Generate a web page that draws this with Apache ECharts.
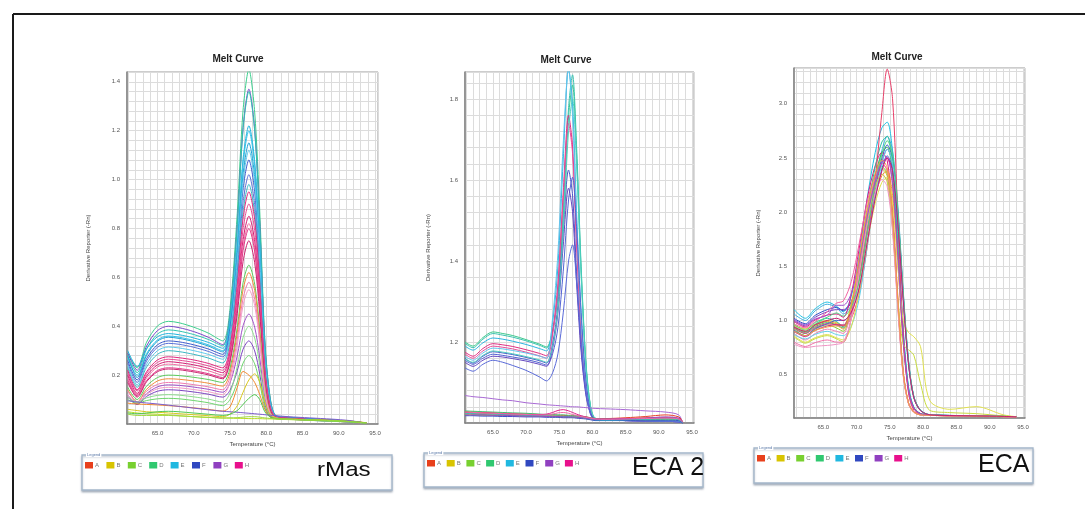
<!DOCTYPE html>
<html>
<head>
<meta charset="utf-8">
<script src="https://cdn.jsdelivr.net/npm/echarts@6.0.0/dist/echarts.min.js"></script>
<style>
html,body{margin:0;padding:0;background:#fff;}
#chart{width:1085px;height:509px;}
</style>
</head>
<body>
<div id="chart"></div>
<script>
// ---------- rMas melt curves: temperature (°C) and derivative reporter (-Rn) per well ----------
const T_RMAS = [60.9, 62.2, 63.5, 65, 66.5, 68, 70, 72, 74, 75, 76, 76.8, 77.6, 78.4, 79.1, 79.8, 80.5, 81.3, 83, 86, 89, 91.5, 93.8];
const RMAS_CURVES = [
  [.29,.23,.335,.401,.42,.414,.396,.372,.34,.473,.862,1.284,1.45,1.276,.87,.348,.116,.035,.028,.022,.017,.012,.004],
  [.29,.22,.319,.382,.40,.394,.378,.355,.325,.45,.816,1.213,1.37,1.206,.822,.329,.11,.034,.027,.021,.016,.011,.004],
  [.28,.21,.306,.368,.385,.38,.366,.346,.32,.445,.809,1.204,1.36,1.197,.816,.326,.109,.033,.027,.021,.016,.011,.004],
  [.30,.235,.309,.357,.37,.365,.352,.334,.31,.419,.738,1.084,1.22,1.074,.732,.293,.098,.032,.026,.02,.016,.011,.004],
  [.27,.20,.288,.344,.36,.355,.342,.324,.30,.408,.723,1.065,1.20,1.056,.72,.288,.096,.032,.026,.02,.015,.011,.004],
  [.28,.19,.281,.339,.355,.35,.337,.319,.295,.398,.697,1.022,1.15,1.012,.69,.276,.092,.031,.025,.02,.015,.01,.003],
  [.26,.18,.268,.324,.34,.336,.324,.307,.285,.38,.659,.961,1.08,.95,.648,.259,.086,.031,.025,.019,.015,.01,.003],
  [.25,.17,.258,.314,.33,.326,.314,.297,.275,.364,.625,.908,1.02,.898,.612,.245,.082,.03,.025,.019,.015,.01,.003],
  [.24,.16,.245,.30,.315,.311,.30,.285,.265,.368,.667,.992,1.12,.986,.672,.269,.09,.03,.024,.019,.014,.01,.003],
  [.23,.15,.233,.285,.30,.296,.285,.27,.25,.338,.593,.871,.98,.862,.588,.235,.078,.029,.024,.018,.014,.01,.003],
  [.22,.14,.214,.262,.275,.271,.262,.248,.23,.316,.568,.842,.95,.836,.57,.228,.076,.029,.024,.018,.014,.01,.003],
  [.21,.135,.207,.252,.265,.261,.252,.238,.22,.302,.54,.798,.90,.792,.54,.216,.072,.028,.023,.018,.014,.009,.003],
  [.20,.125,.197,.242,.255,.251,.242,.228,.21,.287,.511,.754,.85,.748,.51,.204,.068,.028,.023,.018,.013,.009,.003],
  [.19,.12,.189,.233,.245,.241,.232,.218,.20,.274,.491,.727,.82,.722,.492,.197,.066,.027,.022,.017,.013,.009,.003],
  [.18,.115,.178,.219,.23,.227,.218,.206,.19,.263,.477,.709,.80,.704,.48,.192,.064,.027,.022,.017,.013,.009,.003],
  [.17,.11,.173,.214,.225,.222,.213,.201,.185,.253,.451,.665,.75,.66,.45,.18,.06,.027,.022,.017,.013,.009,.003],
  [.15,.10,.155,.19,.20,.198,.191,.182,.17,.228,.396,.578,.65,.572,.39,.156,.052,.026,.021,.017,.013,.009,.003],
  [.14,.09,.142,.176,.185,.183,.176,.167,.155,.211,.374,.55,.62,.546,.372,.149,.05,.026,.021,.016,.012,.008,.003],
  [.135,.09,.134,.162,.17,.168,.161,.152,.14,.193,.347,.514,.58,.51,.348,.139,.046,.025,.021,.016,.012,.008,.003],
  [.12,.08,.124,.152,.16,.158,.151,.142,.13,.168,.28,.402,.45,.396,.27,.108,.036,.025,.02,.016,.012,.008,.003],
  [.12,.085,.121,.144,.15,.148,.141,.132,.12,.172,.322,.486,.55,.484,.33,.132,.044,.025,.02,.016,.012,.008,.003],
  [.11,.08,.113,.134,.14,.138,.131,.122,.11,.138,.218,.306,.34,.299,.204,.082,.03,.024,.02,.015,.012,.008,.003],
  [.11,.09,.107,.117,.12,.118,.111,.102,.09,.127,.236,.354,.40,.352,.24,.096,.032,.024,.02,.015,.011,.008,.003],
  [.10,.085,.096,.103,.105,.103,.096,.087,.075,.10,.171,.249,.28,.246,.168,.067,.03,.023,.019,.015,.011,.008,.003],
  [.085,.082,.08,.078,.075,.072,.066,.06,.053,.07,.15,.215,.20,.17,.12,.06,.03,.022,.02,.018,.015,.012,.005],
  [.06,.055,.05,.048,.045,.042,.038,.034,.03,.04,.075,.13,.18,.205,.17,.09,.04,.025,.02,.018,.015,.012,.005],
  [.095,.09,.086,.082,.077,.072,.065,.058,.052,.05,.048,.046,.044,.042,.04,.038,.036,.034,.03,.025,.02,.014,.003],
  [.05,.045,.042,.04,.037,.034,.03,.027,.024,.024,.023,.023,.022,.022,.022,.021,.021,.02,.018,.016,.013,.01,.004],
  [.045,.042,.045,.05,.052,.05,.045,.04,.035,.04,.055,.08,.105,.12,.1,.05,.03,.022,.02,.017,.014,.01,.004],
  [.04,.035,.035,.035,.035,.033,.03,.027,.025,.025,.026,.028,.03,.03,.028,.025,.023,.021,.019,.017,.014,.01,.004]
];
const RMAS_COLORS = ['#3ccf8e','#7a48c8','#2ec4b0','#22b4dc','#34c2e8','#1ea2d4','#3e5ccc','#5a72d8','#5ec8ea','#3ab8c4',
  '#e0287e','#e84a94','#d41e74','#f06ca2','#e23a8a','#cc2470','#5ccc5c','#f08c3c','#f07cb0','#a050c8',
  '#f29cc6','#7c44c0','#8cdc8c','#6cd46c','#f0882c','#d8c820','#7c5ccc','#b8dc20','#50c850','#a0d840'];
const RMAS_Y_LABELS = [0.2, 0.4, 0.6, 0.8, 1.0, 1.2, 1.4];

// ---------- ECA 2 melt curves ----------
const T_ECA2 = [60.8, 62, 63.5, 65, 66.5, 68, 70, 72, 73.1, 74, 74.8, 75.6, 76.4, 77.0, 77.6, 78.3, 79, 79.7, 80.4, 82, 85, 88, 91, 93, 93.6];
const ECA2_CURVES = [
  [1.20,1.19,1.211,1.225,1.221,1.216,1.206,1.195,1.188,1.227,1.317,1.512,1.757,1.835,1.668,1.376,1.15,1.042,1.012,1.009,1.007,1.006,1.005,1.004,1.0],
  [1.197,1.186,1.207,1.221,1.217,1.212,1.203,1.192,1.185,1.226,1.32,1.523,1.779,1.86,1.688,1.387,1.155,1.043,1.012,1.009,1.007,1.006,1.005,1.004,1.0],
  [1.19,1.18,1.198,1.21,1.207,1.202,1.194,1.184,1.178,1.248,1.387,1.652,1.875,1.788,1.525,1.263,1.105,1.035,1.01,1.008,1.006,1.005,1.004,1.003,1.0],
  [1.175,1.165,1.184,1.196,1.193,1.189,1.181,1.172,1.166,1.225,1.344,1.57,1.76,1.684,1.456,1.228,1.091,1.03,1.01,1.008,1.006,1.005,1.004,1.003,1.0],
  [1.17,1.16,1.178,1.19,1.187,1.183,1.175,1.166,1.16,1.218,1.334,1.554,1.74,1.666,1.444,1.222,1.089,1.03,1.01,1.008,1.006,1.005,1.004,1.003,1.0],
  [1.165,1.155,1.173,1.185,1.183,1.179,1.173,1.165,1.16,1.26,1.42,1.69,1.875,1.76,1.5,1.25,1.1,1.03,1.008,1.007,1.006,1.005,1.004,1.003,1.0],
  [1.16,1.148,1.165,1.176,1.173,1.169,1.162,1.154,1.148,1.196,1.291,1.472,1.625,1.563,1.375,1.188,1.075,1.025,1.008,1.007,1.006,1.005,1.004,1.003,1.0],
  [1.155,1.145,1.16,1.17,1.167,1.163,1.157,1.149,1.143,1.171,1.236,1.375,1.551,1.607,1.486,1.273,1.109,1.03,1.01,1.008,1.006,1.005,1.004,1.003,1.0],
  [1.15,1.14,1.155,1.165,1.163,1.159,1.153,1.145,1.14,1.184,1.272,1.439,1.58,1.522,1.348,1.174,1.07,1.023,1.008,1.007,1.006,1.005,1.004,1.003,1.0],
  [1.158,1.15,1.167,1.178,1.175,1.171,1.164,1.156,1.15,1.189,1.28,1.475,1.722,1.80,1.64,1.36,1.144,1.04,1.012,1.009,1.007,1.006,1.005,1.004,1.0],
  [1.136,1.128,1.145,1.155,1.15,1.142,1.13,1.114,1.104,1.124,1.171,1.272,1.40,1.44,1.352,1.198,1.079,1.022,1.008,1.007,1.006,1.005,1.004,1.003,1.0],
  [1.068,1.065,1.063,1.06,1.057,1.055,1.05,1.047,1.045,1.044,1.043,1.042,1.041,1.04,1.04,1.039,1.038,1.037,1.036,1.035,1.033,1.03,1.027,1.02,1.0],
  [1.028,1.027,1.026,1.025,1.024,1.023,1.022,1.021,1.02,1.02,1.019,1.019,1.018,1.018,1.017,1.016,1.015,1.013,1.011,1.011,1.013,1.016,1.02,1.015,1.003],
  [1.025,1.025,1.024,1.023,1.022,1.021,1.02,1.019,1.018,1.018,1.017,1.017,1.016,1.016,1.015,1.014,1.013,1.011,1.01,1.01,1.011,1.013,1.014,1.011,1.002],
  [1.022,1.022,1.021,1.02,1.02,1.019,1.018,1.017,1.017,1.016,1.016,1.015,1.015,1.014,1.014,1.013,1.012,1.01,1.009,1.009,1.009,1.01,1.01,1.008,1.001],
  [1.02,1.02,1.019,1.019,1.018,1.018,1.017,1.016,1.016,1.015,1.015,1.015,1.014,1.014,1.013,1.012,1.011,1.009,1.008,1.008,1.008,1.008,1.009,1.007,1.001],
  [1.03,1.029,1.028,1.027,1.026,1.025,1.024,1.022,1.021,1.021,1.02,1.02,1.019,1.019,1.018,1.017,1.015,1.013,1.011,1.01,1.01,1.011,1.012,1.01,1.002],
  [1.026,1.025,1.025,1.024,1.023,1.022,1.021,1.021,1.022,1.026,1.031,1.033,1.03,1.026,1.022,1.018,1.015,1.012,1.01,1.01,1.011,1.012,1.013,1.01,1.002],
  [1.018,1.018,1.017,1.017,1.016,1.016,1.015,1.015,1.014,1.014,1.014,1.013,1.013,1.013,1.012,1.011,1.01,1.008,1.006,1.006,1.006,1.007,1.007,1.006,1.0],
  [1.024,1.023,1.022,1.022,1.021,1.02,1.019,1.018,1.018,1.017,1.017,1.016,1.016,1.015,1.015,1.014,1.012,1.01,1.008,1.007,1.008,1.009,1.01,1.008,1.001],
  [1.02,1.02,1.02,1.019,1.019,1.018,1.017,1.017,1.016,1.016,1.016,1.015,1.015,1.015,1.014,1.013,1.012,1.01,1.009,1.009,1.01,1.012,1.015,1.012,1.002],
  [1.027,1.026,1.025,1.024,1.023,1.022,1.021,1.02,1.02,1.022,1.025,1.026,1.024,1.021,1.019,1.016,1.014,1.012,1.01,1.009,1.01,1.011,1.012,1.01,1.002]
];
const ECA2_COLORS = ['#3cc88c','#3cc4b0','#2cb4e0','#e02c80','#e8509a','#64c4ec','#4854c8','#5464d4','#6448c0','#50d0c0','#5a6ad8','#a868d4',
  '#e83c28','#f08c30','#d8c820','#a0d030','#40c070','#e0208a','#3c50c8','#30b8c0','#9448c4','#f06aa8'];
const ECA2_Y_LABELS = [1.2, 1.4, 1.6, 1.8];

// ---------- ECA melt curves ----------
const T_ECA = [60.6, 62.3, 63.8, 65.6, 67.0, 68.0, 69.2, 70.4, 71.6, 72.8, 73.8, 74.6, 75.4, 76.2, 77.0, 77.8, 78.6, 79.6, 81, 84, 88, 92, 94];
const ECA_CURVES = [
  [1.10,1.02,1.11,1.17,1.13,1.08,1.22,1.605,2.13,2.55,2.778,2.83,2.559,1.80,.933,.391,.201,.142,.128,.123,.119,.115,.11],
  [1.06,1.0,1.09,1.15,1.12,1.06,1.142,1.388,1.847,2.29,2.569,2.70,2.571,2.055,1.281,.636,.301,.172,.13,.123,.119,.115,.11],
  [1.02,.97,1.048,1.10,1.12,1.09,1.167,1.396,1.824,2.238,2.498,2.62,2.495,1.995,1.245,.62,.295,.17,.13,.124,.12,.116,.111],
  [1.0,.95,1.03,1.08,1.10,1.10,1.174,1.396,1.81,2.21,2.462,2.58,2.457,1.965,1.227,.612,.292,.169,.129,.123,.119,.115,.11],
  [.99,.94,1.006,1.05,1.06,1.03,1.243,1.668,2.124,2.428,2.55,2.477,2.015,1.214,.533,.242,.156,.13,.126,.121,.118,.114,.11],
  [.97,.93,.99,1.08,1.16,1.18,1.358,1.713,2.094,2.348,2.45,2.38,1.937,1.169,.516,.237,.155,.129,.125,.12,.117,.113,.109],
  [.96,.92,.968,1.0,.98,.95,1.153,1.559,1.994,2.284,2.40,2.332,1.898,1.146,.508,.234,.154,.129,.125,.12,.117,.113,.109],
  [.95,.90,.954,.99,.97,.95,1.064,1.379,1.808,2.151,2.337,2.38,2.154,1.521,.798,.346,.188,.138,.127,.122,.118,.114,.11],
  [.94,.89,.944,.98,.96,.93,1.064,1.431,1.932,2.333,2.55,2.6,2.352,1.658,.864,.368,.194,.14,.127,.122,.118,.114,.11],
  [.93,.88,.964,1.02,.99,.94,1.081,1.468,1.996,2.418,2.647,2.7,2.442,1.72,.894,.378,.197,.141,.128,.123,.119,.115,.11],
  [.92,.86,.92,.96,.93,.90,1.113,1.538,1.994,2.298,2.42,2.351,1.914,1.155,.511,.235,.155,.129,.125,.12,.117,.113,.109],
  [.93,.88,.934,.97,.96,.95,1.02,1.25,1.68,2.3,2.92,3.32,3.05,1.95,.9,.33,.17,.135,.127,.122,.118,.114,.11],
  [.90,.85,.91,.95,.96,.96,1.083,1.422,1.884,2.254,2.454,2.5,2.262,1.596,.834,.358,.191,.139,.127,.122,.118,.114,.11],
  [.91,.86,.926,.97,1.0,1.0,1.076,1.304,1.73,2.14,2.398,2.52,2.40,1.92,1.20,.60,.288,.168,.129,.123,.119,.115,.11],
  [.88,.82,.88,.92,.90,.88,1.086,1.497,1.938,2.232,2.35,2.283,1.859,1.124,.499,.232,.153,.129,.125,.12,.117,.113,.109],
  [.87,.83,.872,.90,.87,.86,.946,1.204,1.686,2.15,2.442,2.58,2.457,1.965,1.227,.612,.292,.169,.129,.123,.119,.115,.11],
  [.86,.80,.842,.87,.84,.82,.94,1.27,1.72,2.08,2.275,2.32,2.1,1.5,1.0,.89,.85,.76,.26,.18,.205,.13,.112],
  [.85,.79,.832,.86,.83,.80,1.017,1.451,1.916,2.226,2.35,2.28,1.86,1.2,.78,.73,.68,.42,.17,.15,.14,.12,.11],
  [.80,.76,.796,.82,.80,.80,1.031,1.493,1.988,2.318,2.45,2.38,1.937,1.169,.516,.237,.155,.129,.125,.12,.117,.113,.109],
  [.78,.75,.762,.77,.78,.80,1.01,1.43,1.88,2.18,2.3,2.235,1.82,1.101,.491,.229,.153,.129,.125,.12,.117,.113,.109],
  [.96,.91,.982,1.03,1.07,1.04,1.121,1.364,1.818,2.255,2.53,2.66,2.533,2.025,1.263,.628,.298,.171,.13,.124,.12,.116,.111],
  [1.01,.96,1.014,1.05,1.14,1.14,1.249,1.548,1.956,2.282,2.459,2.5,2.262,1.596,.834,.358,.191,.139,.127,.122,.118,.114,.11],
  [.90,.86,.908,.94,.95,.92,1.138,1.575,2.043,2.355,2.48,2.409,1.961,1.182,.521,.238,.155,.129,.125,.12,.117,.113,.109],
  [.94,.90,.96,1.0,1.02,1.0,1.075,1.3,1.72,2.125,2.38,2.5,2.381,1.905,1.191,.596,.287,.168,.129,.123,.119,.115,.11]
];
const ECA_COLORS = ['#22c0e2','#3caee0','#3050c8','#8040c0','#e01882','#f062a2','#d8c81c','#f09030','#40c060','#30c0a0','#90d030','#e8406a',
  '#d02c8c','#5060d0','#f080b4','#60d0ea','#e0e050','#c8dc40','#f070a8','#f094c4','#50d080','#a050d0','#f0a040','#c81c70'];
const ECA_Y_LABELS = [0.5, 1.0, 1.5, 2.0, 2.5, 3.0];

// shared axis labels and legend
const X_LABELS = [65, 70, 75, 80, 85, 90, 95];
const LEGEND_KEYS = ['A', 'B', 'C', 'D', 'E', 'F', 'G', 'H'];
const LEGEND_COLORS = ['#e8401c', '#d8c400', '#78d030', '#30c870', '#20b8e0', '#3048c0', '#9040c0', '#e8108c'];
const PANEL_NAMES = ['rMas', 'ECA 2', 'ECA'];

// ---------- layout of the three panels ----------
const FONT = 'Liberation Sans, Arial, sans-serif';
const panels = [
  { temps: T_RMAS, curves: RMAS_CURVES, colors: RMAS_COLORS, yLabels: RMAS_Y_LABELS,
    grid: { left: 127, top: 72, width: 251, height: 352 }, xr: [60.8, 95.4], yr: [0, 1.44, 0.04],
    title: [238, 59], yGap: 36, xGap: 17,
    legend: { x: 82, y: 455, w: 310, h: 35, sx: 85, step: 21.4, sy: 462 },
    name: { x: 317, y: 470, size: 21, scaleX: 1.15 } },
  { temps: T_ECA2, curves: ECA2_CURVES, colors: ECA2_COLORS, yLabels: ECA2_Y_LABELS,
    grid: { left: 465, top: 72, width: 229, height: 351 }, xr: [60.8, 95.3], yr: [1.0, 1.867, 0.04],
    title: [566, 60], yGap: 34, xGap: 16,
    legend: { x: 424, y: 453, w: 279, h: 34, sx: 427, step: 19.7, sy: 460 },
    name: { x: 632, y: 468, size: 25, scaleX: 1 } },
  { temps: T_ECA, curves: ECA_CURVES, colors: ECA_COLORS, yLabels: ECA_Y_LABELS,
    grid: { left: 794, top: 68, width: 231, height: 350 }, xr: [60.6, 95.3], yr: [0.1, 3.33, 0.1],
    title: [897, 57], yGap: 33, xGap: 17,
    legend: { x: 754, y: 448, w: 279, h: 35, sx: 757, step: 19.6, sy: 455 },
    name: { x: 978, y: 465, size: 25, scaleX: 1 } }
];

const near = (list, v) => list.some(t => Math.abs(t - v) < 1e-6);

const grids = [], xAxes = [], yAxes = [], series = [], graphics = [];

// outer frame
graphics.push({ type: 'line', shape: { x1: 13, y1: 14, x2: 1085, y2: 14 }, style: { stroke: '#1a1a1a', lineWidth: 2 }, silent: true });
graphics.push({ type: 'line', shape: { x1: 13, y1: 14, x2: 13, y2: 509 }, style: { stroke: '#1a1a1a', lineWidth: 2 }, silent: true });

panels.forEach((p, i) => {
  grids.push(Object.assign({ show: true, borderColor: '#9a9a9a', borderWidth: 1, backgroundColor: '#fff', containLabel: false }, p.grid));
  xAxes.push({
    type: 'value', gridIndex: i, min: p.xr[0], max: p.xr[1], minInterval: 1, maxInterval: 1,
    name: 'Temperature (°C)', nameLocation: 'middle', nameGap: p.xGap,
    nameTextStyle: { fontSize: 6, color: '#444', fontFamily: FONT },
    axisLine: { show: true, lineStyle: { color: '#808080', width: 1.5 } },
    axisTick: { show: false },
    axisLabel: { fontSize: 6, color: '#555', fontFamily: FONT, margin: 6,
      formatter: v => near(X_LABELS, v) ? v.toFixed(1) : '' },
    splitLine: { show: true, lineStyle: { color: '#dcdcdc', width: 1 } }
  });
  yAxes.push({
    type: 'value', gridIndex: i, min: p.yr[0], max: p.yr[1], interval: p.yr[2],
    name: 'Derivative Reporter (-Rn)', nameLocation: 'middle', nameGap: p.yGap,
    nameTextStyle: { fontSize: 6, color: '#444', fontFamily: FONT },
    axisLine: { show: true, lineStyle: { color: '#808080', width: 1.5 } },
    axisTick: { show: false },
    axisLabel: { fontSize: 6, color: '#555', fontFamily: FONT, margin: 7,
      formatter: v => near(p.yLabels, v) ? v.toFixed(1) : '' },
    splitLine: { show: true, lineStyle: { color: '#dcdcdc', width: 1 } }
  });
  p.curves.forEach((vals, k) => {
    series.push({
      type: 'line', xAxisIndex: i, yAxisIndex: i, silent: true,
      data: p.temps.map((t, j) => [t, vals[j]]),
      smooth: 0.3, symbol: 'none', clip: true,
      lineStyle: { width: 1, color: p.colors[k] }
    });
  });

  // panel title
  graphics.push({ type: 'text', x: p.title[0], y: p.title[1], silent: true,
    style: { text: 'Melt Curve', font: 'bold 10px ' + FONT, fill: '#222', align: 'center', verticalAlign: 'middle' } });

  // legend box
  const L = p.legend;
  graphics.push({ type: 'rect', silent: true, shape: { x: L.x, y: L.y, width: L.w, height: L.h },
    style: { fill: '#fff', stroke: '#a4b6ca', lineWidth: 1.3, shadowBlur: 2, shadowOffsetY: 1.5, shadowColor: 'rgba(60,80,110,0.35)' } });
  graphics.push({ type: 'text', x: L.x + 4, y: L.y, silent: true,
    style: { text: 'Legend', font: '4px ' + FONT, fill: '#5a78a8', backgroundColor: '#fff', padding: [0, 1], align: 'left', verticalAlign: 'middle' } });
  LEGEND_KEYS.forEach((key, k) => {
    const x0 = L.sx + k * L.step;
    graphics.push({ type: 'rect', silent: true, shape: { x: x0, y: L.sy, width: 8, height: 6.5 },
      style: { fill: LEGEND_COLORS[k] } });
    graphics.push({ type: 'text', silent: true, x: x0 + 10, y: L.sy + 3.3,
      style: { text: key, font: '6px ' + FONT, fill: '#777', align: 'left', verticalAlign: 'middle' } });
  });
  // well-set name, stretched horizontally about its own left edge
  graphics.push({ type: 'text', silent: true, x: p.name.x, y: p.name.y, scaleX: p.name.scaleX, originX: 0, originY: 0,
    style: { text: PANEL_NAMES[i], font: p.name.size + 'px ' + FONT, fill: '#111', align: 'left', verticalAlign: 'middle' } });
});

const chart = echarts.init(document.getElementById('chart'), null, { renderer: 'canvas' });
chart.setOption({
  animation: false,
  backgroundColor: '#fff',
  grid: grids,
  xAxis: xAxes,
  yAxis: yAxes,
  series: series,
  graphic: { elements: graphics }
});
</script>
</body>
</html>
